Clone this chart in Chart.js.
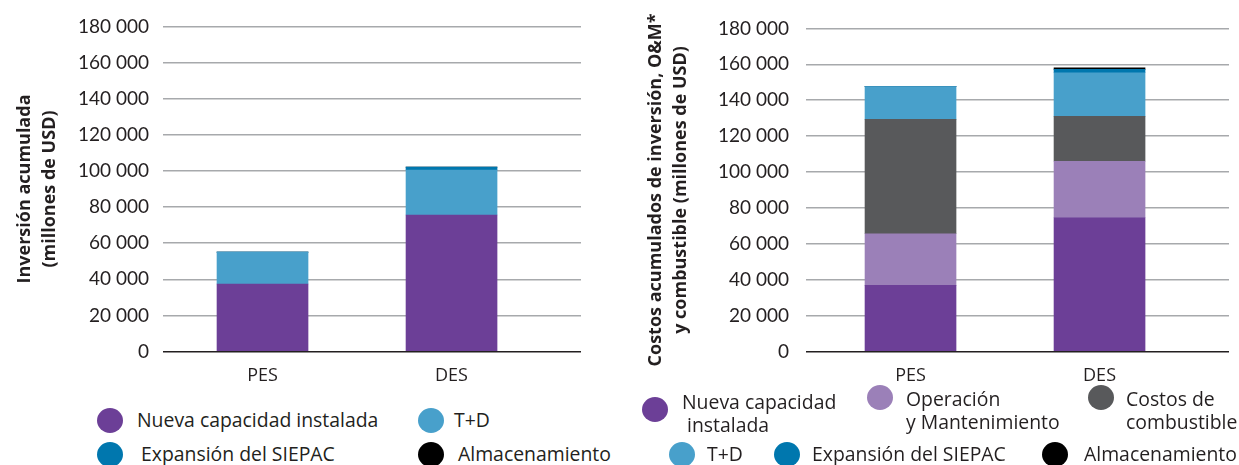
<!DOCTYPE html>
<html lang="es">
<head>
<meta charset="utf-8">
<script src="https://cdn.jsdelivr.net/npm/chart.js@4.4.1/dist/chart.umd.min.js"></script>
<style>
  body { margin: 0; width: 1239px; height: 465px; overflow: hidden; background: #fff; position: relative; font-family: 'Open Sans', sans-serif; color: #231F20; }
  .box { position: absolute; top: 0; height: 400px; }
  #leftBox { left: 0; width: 620px; }
  #rightBox { left: 620px; width: 619px; }
  .leg { position: absolute; font-size: 19.4px; line-height: 23px; white-space: nowrap; }
  .dot { position: absolute; width: 26px; height: 25px; border-radius: 50%; }
</style>
</head>
<body>
<div class="box" id="leftBox"><canvas id="investChart" width="620" height="400"></canvas></div>
<div class="box" id="rightBox"><canvas id="costChart" width="619" height="400"></canvas></div>
<div id="legends"></div>
<script>
const scenarios = ['PES', 'DES'];

// inversion acumulada (millones de USD)
const invNueva = [37400, 75600];
const invTD = [17600, 24900];
const invSiepac = [0, 1600];
const invAlmac = [0, 0];

// costos acumulados de inversion, O&M y combustible (millones de USD)
const costNueva = [36800, 74500];
const costOM = [28800, 31500];
const costFuel = [63700, 25000];
const costTD = [18300, 24300];
const costSiepac = [0, 1900];
const costAlmac = [0, 900];

const colors = {
  nueva: '#6C3F97',
  om: '#9B80B8',
  fuel: '#58595B',
  td: '#48A0CB',
  siepac: '#0077AE',
  almac: '#000000'
};

const textColor = '#231F20';

function fmt(v) {
  return String(v).replace(/\B(?=(\d{3})+(?!\d))/g, ' ');
}

function ds(label, values, color) {
  return {
    label: label,
    data: values.map((v, i) => ({ x: i, y: v })),
    backgroundColor: color,
    borderWidth: 0,
    barThickness: 91
  };
}

function makeOptions(cfg) {
  return {
    responsive: false,
    maintainAspectRatio: false,
    animation: false,
    layout: { padding: { top: 26.5, right: cfg.padRight, bottom: 0, left: 0 } },
    plugins: { legend: { display: false }, tooltip: { enabled: false } },
    scales: {
      x: {
        type: 'linear',
        stacked: true,
        offset: false,
        min: cfg.xMin,
        max: cfg.xMax,
        grid: { display: false },
        border: { display: false },
        afterBuildTicks: s => { s.ticks = scenarios.map((c, i) => ({ value: i })); },
        afterFit: s => { s.height = 48.5; },
        ticks: {
          padding: 6,
          color: textColor,
          font: { family: 'Open Sans', size: 18 },
          callback: v => scenarios[v]
        }
      },
      y: {
        stacked: true,
        min: 0,
        max: 180000,
        border: { display: false },
        grid: {
          drawTicks: false,
          lineWidth: 1.5,
          color: c => c.tick.value === 0 ? textColor : '#A7A9AC'
        },
        afterFit: s => { s.width = cfg.axisWidth; },
        ticks: {
          stepSize: 20000,
          padding: cfg.tickPad,
          color: textColor,
          font: { family: 'Lato', size: 19 },
          callback: v => fmt(v)
        },
        title: {
          display: true,
          text: cfg.title,
          color: textColor,
          font: { family: 'Open Sans', size: 18, weight: 'bold', lineHeight: 1.35 },
          padding: { top: cfg.titlePad, bottom: 0 }
        }
      }
    }
  };
}

const investChart = new Chart(document.getElementById('investChart').getContext('2d'), {
  type: 'bar',
  data: {
    datasets: [
      ds('Nueva capacidad instalada', invNueva, colors.nueva),
      ds('T+D', invTD, colors.td),
      ds('Expansión del SIEPAC', invSiepac, colors.siepac),
      ds('Almacenamiento', invAlmac, colors.almac)
    ]
  },
  options: makeOptions({
    padRight: 39, axisWidth: 163, tickPad: 14, titlePad: 13,
    xMin: -0.5265, xMax: 1.685,
    title: ['Inversión acumulada', '(millones de USD)']
  })
});

const costChart = new Chart(document.getElementById('costChart').getContext('2d'), {
  type: 'bar',
  data: {
    datasets: [
      ds('Nueva capacidad instalada', costNueva, colors.nueva),
      ds('Operación y Mantenimiento', costOM, colors.om),
      ds('Costos de combustible', costFuel, colors.fuel),
      ds('T+D', costTD, colors.td),
      ds('Expansión del SIEPAC', costSiepac, colors.siepac),
      ds('Almacenamiento', costAlmac, colors.almac)
    ]
  },
  options: makeOptions({
    padRight: 10, axisWidth: 186, tickPad: 17, titlePad: 24,
    xMin: -0.553, xMax: 1.685,
    title: ['Costos acumulados de inversión, O&M*', 'y combustible (millones de USD)']
  })
});

// legend layout: marker centre (cx, cy), text left (tx) and text centre (ty)
const legendItems = [
  { text: ['Nueva capacidad instalada'], color: colors.nueva, cx: 110, cy: 420, tx: 137, ty: 419 },
  { text: ['T+D'], color: colors.td, cx: 431, cy: 420, tx: 454, ty: 419 },
  { text: ['Expansión del SIEPAC'], color: colors.siepac, cx: 110, cy: 454, tx: 141, ty: 453 },
  { text: ['Almacenamiento'], color: colors.almac, cx: 431, cy: 454, tx: 458, ty: 453 },

  { text: ['Nueva capacidad', '\u00a0instalada'], color: colors.nueva, cx: 655, cy: 409, tx: 682, ty: 413 },
  { text: ['Operación', 'y Mantenimiento'], color: colors.om, cx: 880, cy: 397, tx: 906, ty: 410 },
  { text: ['Costos de', 'combustible'], color: colors.fuel, cx: 1101, cy: 397, tx: 1126, ty: 410 },
  { text: ['T+D'], color: colors.td, cx: 682, cy: 454, tx: 707, ty: 453 },
  { text: ['Expansión del SIEPAC'], color: colors.siepac, cx: 787, cy: 454, tx: 812, ty: 453 },
  { text: ['Almacenamiento'], color: colors.almac, cx: 1055, cy: 454, tx: 1084, ty: 453 }
];

const legendBox = document.getElementById('legends');
legendItems.forEach(item => {
  const dot = document.createElement('div');
  dot.className = 'dot';
  dot.style.background = item.color;
  dot.style.left = (item.cx - 13) + 'px';
  dot.style.top = (item.cy - 12.5) + 'px';
  legendBox.appendChild(dot);

  const label = document.createElement('div');
  label.className = 'leg';
  label.innerHTML = item.text.join('<br>');
  label.style.left = item.tx + 'px';
  label.style.top = (item.ty - item.text.length * 23 / 2) + 'px';
  legendBox.appendChild(label);
});
</script>
</body>
</html>
